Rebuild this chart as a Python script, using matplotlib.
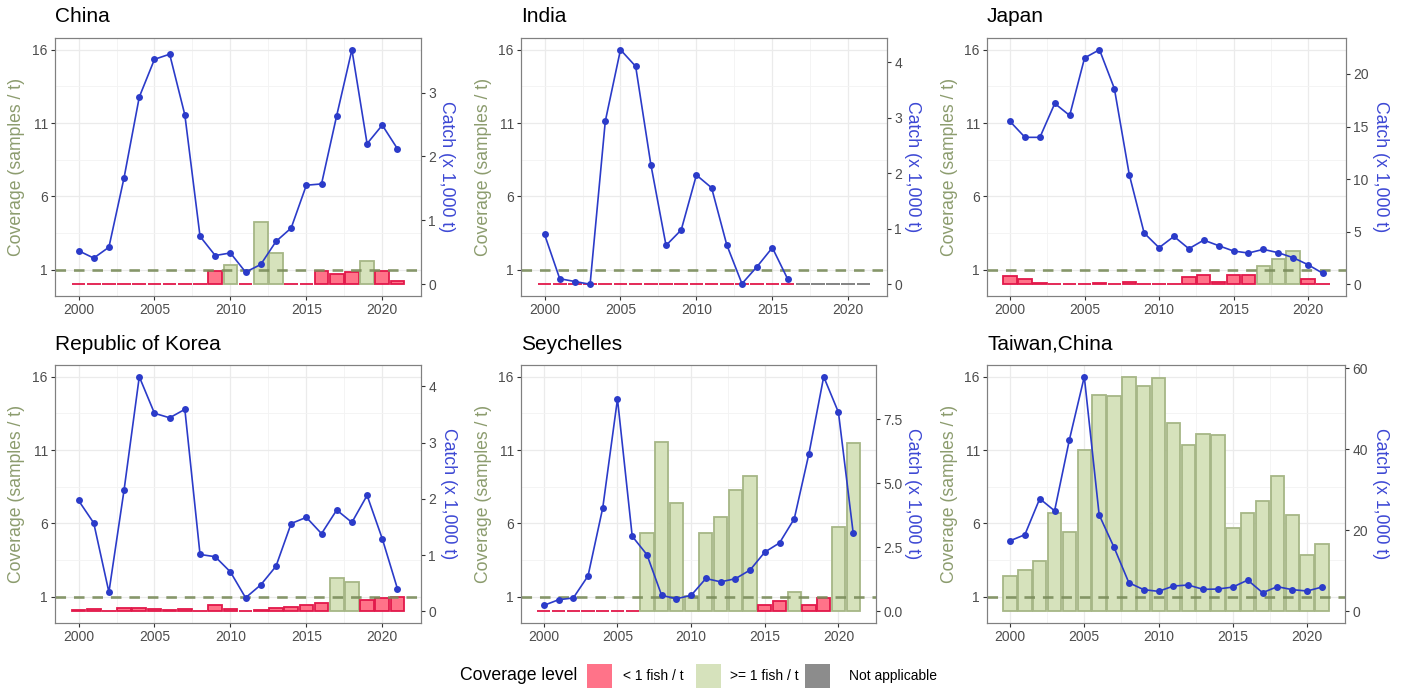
import numpy as np
import matplotlib
matplotlib.use("Agg")
import matplotlib.pyplot as plt
from matplotlib.patches import Rectangle
from matplotlib.ticker import FixedLocator, FixedFormatter

plt.rcParams['font.family'] = ['Liberation Sans', 'DejaVu Sans']

years = list(range(2000, 2022))
nan = float('nan')

countries = ["China", "India", "Japan", "Republic of Korea", "Seychelles", "Taiwan,China"]

# Coverage (samples / t); NaN = not applicable
china_coverage = [0, 0, 0, 0, 0, 0, 0, 0, 0, 0.9, 1.3, 0, 4.26, 2.13, 0, 0,
                  0.9, 0.73, 0.82, 1.59, 0.9, 0.2]
india_coverage = [0, 0, 0, 0, 0, 0, 0, 0, 0, 0, 0, 0, 0, 0, 0, 0, 0,
                  nan, nan, nan, nan, nan]
japan_coverage = [0.57, 0.36, 0.09, 0.05, 0.01, 0.03, 0.11, 0.05, 0.14, 0.05, 0.03,
                  0.05, 0.52, 0.64, 0.18, 0.64, 0.64, 1.25, 1.73, 2.27, 0.36, 0.01]
korea_coverage = [0.11, 0.16, 0.02, 0.23, 0.25, 0.14, 0.09, 0.16, 0.02, 0.45, 0.18,
                  0.0, 0.09, 0.2, 0.32, 0.45, 0.54, 2.25, 2.02, 0.75, 0.88, 0.95]
seychelles_coverage = [0, 0, 0, 0, 0, 0, 0, 5.33, 11.57, 7.37, 1.05, 5.31, 6.42,
                       8.26, 9.2, 0.43, 0.68, 1.29, 0.41, 0.93, 5.76, 11.5]
taiwan_coverage = [2.38, 2.79, 3.43, 6.72, 5.42, 10.98, 14.73, 14.68, 16.0, 15.36,
                   15.93, 12.82, 11.37, 12.09, 12.0, 5.70, 6.69, 7.49, 9.24, 6.58,
                   3.86, 4.58]

# Catch (x 1,000 t)
china_catch = [0.525, 0.41, 0.58, 1.67, 2.93, 3.52, 3.60, 2.65, 0.75, 0.45, 0.49,
               0.19, 0.31, 0.67, 0.88, 1.55, 1.57, 2.64, 3.67, 2.20, 2.49, 2.12]
india_catch = [0.90, 0.10, 0.05, 0.0, 2.94, 4.23, 3.93, 2.16, 0.70, 0.98, 1.97,
               1.74, 0.71, 0.01, 0.32, 0.66, 0.10, nan, nan, nan, nan, nan]
japan_catch = [15.48, 13.97, 13.97, 17.19, 16.05, 21.52, 22.3, 18.61, 10.43, 4.87,
               3.48, 4.55, 3.38, 4.20, 3.67, 3.16, 2.97, 3.32, 3.00, 2.53, 1.86, 1.04]
korea_catch = [1.97, 1.57, 0.34, 2.16, 4.17, 3.52, 3.44, 3.59, 1.01, 0.97, 0.70,
               0.24, 0.47, 0.80, 1.56, 1.67, 1.38, 1.80, 1.58, 2.06, 1.29, 0.40]
seychelles_catch = [0.23, 0.45, 0.52, 1.38, 4.04, 8.29, 2.93, 2.21, 0.62, 0.49, 0.62,
                    1.28, 1.15, 1.27, 1.61, 2.31, 2.67, 3.61, 6.16, 9.16, 7.77, 3.06]
taiwan_catch = [17.4, 18.9, 27.8, 24.8, 42.4, 57.9, 23.8, 15.8, 7.05, 5.33, 4.92,
                6.23, 6.48, 5.41, 5.49, 5.98, 7.70, 4.59, 6.07, 5.33, 5.0, 5.98]

coverage_data = [china_coverage, india_coverage, japan_coverage,
                 korea_coverage, seychelles_coverage, taiwan_coverage]
catch_data = [china_catch, india_catch, japan_catch,
              korea_catch, seychelles_catch, taiwan_catch]

catch_ticks = [[0, 1, 2, 3], [0, 1, 2, 3, 4], [0, 5, 10, 15, 20],
               [0, 1, 2, 3, 4], [0, 2.5, 5, 7.5], [0, 20, 40, 60]]
catch_tick_labels = [["0", "1", "2", "3"], ["0", "1", "2", "3", "4"],
                     ["0", "5", "10", "15", "20"], ["0", "1", "2", "3", "4"],
                     ["0.0", "2.5", "5.0", "7.5"], ["0", "20", "40", "60"]]

coverage_ticks = [1, 6, 11, 16]
year_ticks = [2000, 2005, 2010, 2015, 2020]

legend_labels = ["< 1 fish / t", ">= 1 fish / t", "Not applicable"]

# ---- styling ----
W, H = 1403, 688
RED_FILL, RED_EDGE = '#ff7389', '#e2184a'
GRN_FILL, GRN_EDGE = '#d6e2bc', '#a6b686'
GRY_FILL, GRY_EDGE = '#8c8c8c', '#7a7a7a'
BLUE = '#2b3bc9'
BLUE_LABEL = '#3d48d4'
GREEN_LABEL = '#8c9c6e'
TICK_COL = '#4d4d4d'

# panel boxes in pixels: (x0, x1, y0, y1)
boxes = [(55, 421, 38, 296), (521, 887, 38, 296), (987, 1346, 38, 296),
         (55, 421, 365, 623), (521, 876, 365, 623), (987, 1345, 365, 623)]
title_y = [17, 17, 17, 344, 344, 344]
left_lab_x = [17, 483, 949, 17, 483, 949]
right_lab_x = [447, 913, 1380, 448, 913, 1380]

fig = plt.figure(figsize=(W / 100, H / 100), dpi=100)
fig.patch.set_facecolor('white')


def fx(x):
    return x / W


def fy(y):
    return 1 - y / H


for i, name in enumerate(countries):
    x0, x1, y0, y1 = boxes[i]
    ax = fig.add_axes([fx(x0), fy(y1), (x1 - x0) / W, (y1 - y0) / H])
    cov = np.array(coverage_data[i], dtype=float)
    cat = np.array(catch_data[i], dtype=float)

    ax.set_xlim(1998.45, 2022.55)
    ax.set_ylim(-0.8, 16.8)

    # grid
    ax.set_axisbelow(True)
    ax.xaxis.set_major_locator(FixedLocator(year_ticks))
    ax.xaxis.set_minor_locator(FixedLocator([2002.5, 2007.5, 2012.5, 2017.5]))
    ax.yaxis.set_major_locator(FixedLocator(coverage_ticks))
    ax.yaxis.set_minor_locator(FixedLocator([3.5, 8.5, 13.5]))
    ax.grid(True, which='major', color='#ebebeb', linewidth=0.9)
    ax.grid(True, which='minor', color='#f3f3f3', linewidth=0.6)
    ax.tick_params(which='minor', length=0)
    ax.tick_params(which='major', length=3, width=0.8, color='#333333',
                   labelcolor=TICK_COL, labelsize=10, pad=2.2)

    # bars
    for yr, v in zip(years, cov):
        if np.isnan(v):
            fc, ec, h = GRY_FILL, GRY_EDGE, 0.0
        elif v >= 1:
            fc, ec, h = GRN_FILL, GRN_EDGE, v
        else:
            fc, ec, h = RED_FILL, RED_EDGE, v
        ax.bar(yr, h, width=0.9, color=fc, edgecolor=ec, linewidth=1.3, zorder=2)

    ax.axhline(1, color='#7b8d5c', linewidth=1.9, linestyle=(0, (4, 3)),
               alpha=0.9, zorder=3)

    for sp in ax.spines.values():
        sp.set_color('#808080')
        sp.set_linewidth(0.8)

    # catch on secondary axis
    M = np.nanmax(cat)
    ax2 = ax.twinx()
    ax2.set_ylim(-0.8 * M / 16, 16.8 * M / 16)
    ax2.plot(years, cat, color=BLUE, linewidth=1.2, marker='o', markersize=5.0,
             markeredgewidth=0, zorder=4)
    ax2.yaxis.set_major_locator(FixedLocator(catch_ticks[i]))
    ax2.yaxis.set_major_formatter(FixedFormatter(catch_tick_labels[i]))
    ax2.tick_params(length=3, width=0.8, color='#333333', labelcolor=TICK_COL,
                    labelsize=10, pad=2.2)
    for sp in ax2.spines.values():
        sp.set_color('#808080')
        sp.set_linewidth(0.8)

    # texts
    fig.text(fx(x0), fy(title_y[i]), name, fontsize=15, ha='left', va='center',
             color='black')
    yc = (y0 + y1) / 2
    fig.text(fx(left_lab_x[i]), fy(yc), "Coverage (samples / t)", rotation=90,
             fontsize=12.7, color=GREEN_LABEL, ha='center', va='center')
    fig.text(fx(right_lab_x[i]), fy(yc), "Catch (x 1,000 t)", rotation=270,
             fontsize=12.7, color=BLUE_LABEL, ha='center', va='center')

# legend
fig.text(fx(460), fy(676), "Coverage level", fontsize=12.7, ha='left', va='center')
key_x = [587, 696, 805]
text_x = [623, 730, 849]
key_cols = [RED_FILL, GRN_FILL, GRY_FILL]
for kx, tx, kc, lab in zip(key_x, text_x, key_cols, legend_labels):
    fig.patches.append(Rectangle((fx(kx), fy(690)), 25 / W, 26 / H,
                                 transform=fig.transFigure, facecolor=kc,
                                 edgecolor='none'))
    fig.text(fx(tx), fy(676), lab, fontsize=10, ha='left', va='center')

fig.savefig("out.png", dpi=100)
